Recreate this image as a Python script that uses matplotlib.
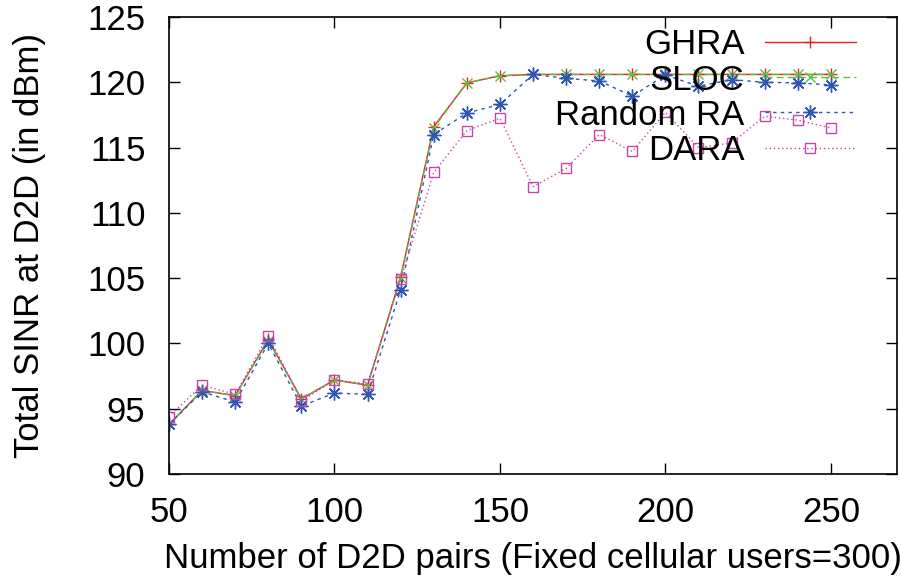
import numpy as np
import matplotlib
matplotlib.use("Agg")
import matplotlib.pyplot as plt

plt.rcParams.update({"font.family": "Liberation Sans", "font.size": 25})

# D2D pairs on the x axis, total SINR (dBm) per scheme
pairs = [50, 60, 70, 80, 90, 100, 110, 120, 130, 140, 150,
         160, 170, 180, 190, 200, 210, 220, 230, 240, 250]
ghra = [93.8, 96.4, 96.0, 100.3, 95.75, 97.2, 96.8, 105.1, 116.6, 119.95, 120.5,
        120.6, 120.6, 120.6, 120.6, 120.6, 120.6, 120.6, 120.6, 120.6, 120.6]
sloc = [93.8, 96.4, 96.0, 100.2, 95.75, 97.2, 96.8, 105.0, 116.5, 119.95, 120.5,
        120.6, 120.6, 120.6, 120.6, 120.6, 120.6, 120.6, 120.6, 120.6, 120.6]
random_ra = [93.8, 96.3, 95.5, 100.0, 95.2, 96.2, 96.1, 104.1, 116.0, 117.65, 118.3,
             120.6, 120.3, 120.1, 118.95, 120.55, 119.7, 120.2, 120.0, 119.95, 119.8]
dara = [94.4, 96.8, 96.1, 100.6, 95.6, 97.2, 96.9, 104.9, 113.1, 116.3, 117.25,
        112.0, 113.4, 116.0, 114.7, 117.7, 115.0, 115.35, 117.4, 117.1, 116.5]

fig = plt.figure(figsize=(9.01, 5.82), dpi=100)
ax = fig.add_axes([0.1876, 0.1856, 0.808, 0.7852])

ax.plot(pairs, ghra, color="#e8202a", lw=1.0, ls="-", marker="+", ms=8, mew=1.0, label="GHRA")
ax.plot(pairs, sloc, color="#5cbf3c", lw=1.0, ls=(0, (5, 3)), marker="x", ms=7, mew=1.0, label="SLOC")
ax.plot(pairs, random_ra, color="#2f55b5", lw=1.0, ls=(0, (2.5, 3)), marker=(8, 2, 0), ms=10, mew=1.0,
        label="Random RA")
ax.plot(pairs, dara, color="#c845a8", lw=1.0, ls=(0, (1, 2)), marker="s", ms=7.5, mew=1.0,
        mfc="none", label="DARA")

ax.set_xlim(50, 270)
ax.set_ylim(90, 125)
ax.set_xticks([50, 100, 150, 200, 250])
ax.set_yticks(np.arange(90, 126, 5))
ax.tick_params(direction="in", length=8, width=1, top=True, right=True)
ax.tick_params(axis="x", pad=16)
ax.tick_params(axis="y", pad=17)
for s in ax.spines.values():
    s.set_linewidth(1.2)

ax.set_xlabel("Number of D2D pairs (Fixed cellular users=300)", labelpad=9)
ax.set_ylabel("Total SINR at D2D (in dBm)", labelpad=30)

ax.legend(loc="upper right", bbox_to_anchor=(0.943, 0.975), frameon=False, markerfirst=False,
          numpoints=1, handlelength=2.6, handletextpad=0.6, labelspacing=0.06, borderpad=0,
          borderaxespad=0)

fig.savefig("out.png", dpi=100)
